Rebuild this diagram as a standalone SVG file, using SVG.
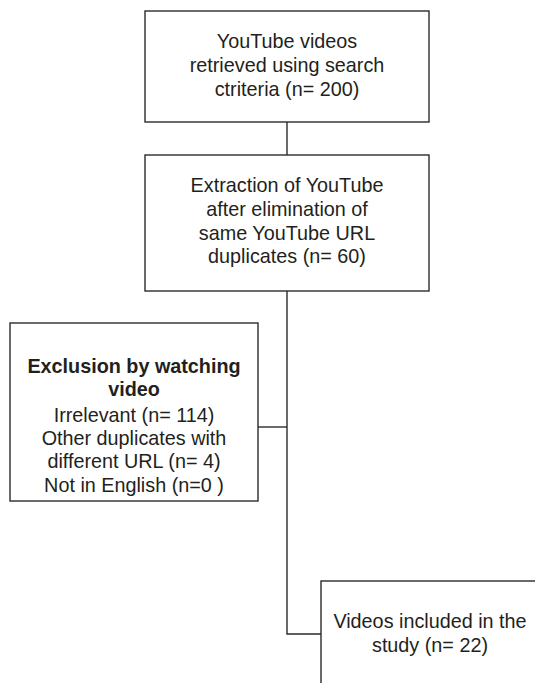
<svg xmlns="http://www.w3.org/2000/svg" width="535" height="683" viewBox="0 0 535 683">
<style>
.box{fill:#fff;stroke:#2b2b2b;stroke-width:1.4}
.ln{fill:none;stroke:#2b2b2b;stroke-width:1.4}
text{font-family:"Liberation Sans",Arial,sans-serif;font-size:19.8px;fill:#231f20;text-anchor:middle}
.b{font-weight:bold}
</style>
<rect width="535" height="683" fill="#fff"/>
<g id="connectors">
<line class="ln" x1="287" y1="122" x2="287" y2="155"/>
<polyline class="ln" points="287,291 287,634 321,634"/>
<line class="ln" x1="258" y1="427" x2="287" y2="427"/>
</g>
<g id="n1">
<rect class="box" x="145" y="11" width="284" height="111"/>
<text x="287" y="48">YouTube videos</text>
<text x="287" y="72">retrieved using search</text>
<text x="287" y="96">ctriteria (n= 200)</text>
</g>
<g id="n2">
<rect class="box" x="145" y="155" width="284" height="136"/>
<text x="287" y="192">Extraction of YouTube</text>
<text x="287" y="216">after elimination of</text>
<text x="287" y="240">same YouTube URL</text>
<text x="287" y="263">duplicates (n= 60)</text>
</g>
<g id="n3">
<rect class="box" x="10" y="323" width="248" height="178"/>
<text class="b" x="134" y="373">Exclusion by watching</text>
<text class="b" x="134" y="396">video</text>
<text x="134" y="422">Irrelevant (n= 114)</text>
<text x="134" y="445">Other duplicates with</text>
<text x="134" y="468">different URL (n= 4)</text>
<text x="134" y="492">Not in English (n=0 )</text>
</g>
<g id="n4">
<rect class="box" x="321" y="581" width="240" height="130"/>
<text x="430" y="628">Videos included in the</text>
<text x="430" y="652">study (n= 22)</text>
</g>
</svg>
